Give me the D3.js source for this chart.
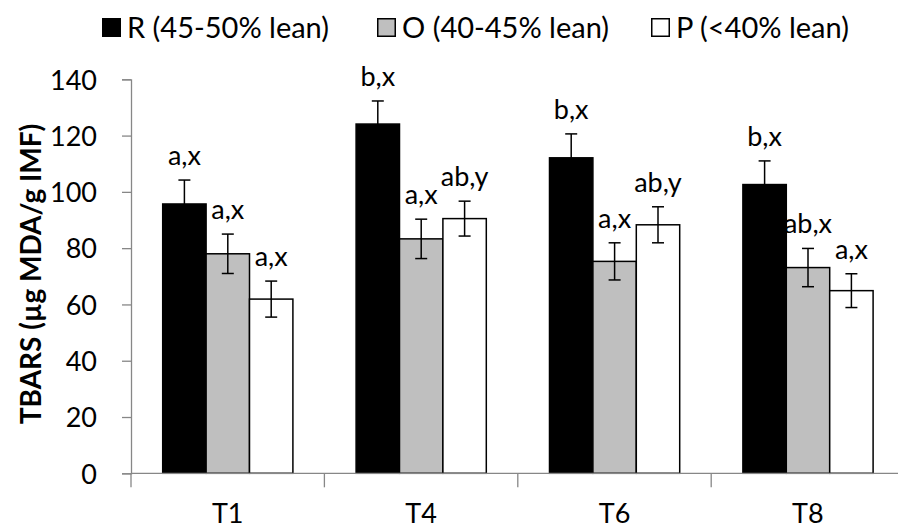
<!DOCTYPE html>
<html><head><meta charset="utf-8">
<script src="https://cdn.jsdelivr.net/npm/d3@7"></script>
<style>body{margin:0;background:#fff}svg{display:block}</style>
</head><body><svg id="c" width="898" height="532"></svg>
<script>
const categories = ["T1","T4","T6","T8"];
const seriesNames = ["R (45-50% lean)","O (40-45% lean)","P (<40% lean)"];
const seriesColors = ["#000000","#bfbfbf","#ffffff"];
const valuesR = [95.7,124.1,112.1,102.6];
const valuesO = [78.0,83.3,75.3,73.1];
const valuesP = [61.9,90.5,88.3,64.9];
const errR = [8.5,8.2,8.5,8.4];
const errO = [7.0,7.0,6.6,6.8];
const errP = [6.4,6.2,6.4,6.0];
const labelsR = ["a,x","b,x","b,x","b,x"];
const labelsO = ["a,x","a,x","a,x","ab,x"];
const labelsP = ["a,x","ab,y","ab,y","a,x"];
const yTicks = [0,20,40,60,80,100,120,140];

(function(){
const series = [
  {name:seriesNames[0],color:seriesColors[0],vals:valuesR,err:errR,lab:labelsR},
  {name:seriesNames[1],color:seriesColors[1],vals:valuesO,err:errO,lab:labelsO},
  {name:seriesNames[2],color:seriesColors[2],vals:valuesP,err:errP,lab:labelsP}
];
const font = "Lato, 'Open Sans', sans-serif";
const fs = 27;
const svg = d3.select("#c");
const pL = 131, pR = 904.6, pT = 79.3, pB = 473.3;
const y = d3.scaleLinear().domain([0,140]).range([pB, pT]);
const x0 = d3.scaleBand().domain(categories).range([pL, pR]).padding(0);
const x1 = d3.scaleBand().domain(d3.range(series.length)).range([31.7, 31.7+130.2]).padding(0);
const axisColor = "#878787";

const ya = svg.append("g").attr("transform",`translate(${pL},0)`)
  .call(d3.axisLeft(y).tickValues(yTicks).tickSize(9).tickPadding(25).tickFormat(d3.format("d")));
ya.select(".domain").attr("stroke",axisColor).attr("stroke-width",1.3);
ya.selectAll(".tick line").attr("stroke",axisColor).attr("stroke-width",1.3);
ya.selectAll(".tick text").attr("font-family",font).attr("font-size",fs).attr("fill","#000").attr("dy","0.36em");

series.forEach((s,si)=>{
  const g = svg.append("g");
  categories.forEach((c,ci)=>{
    const bx = x0(c)+x1(si), bw = x1.bandwidth(), v = s.vals[ci];
    g.append("rect").attr("x",bx).attr("y",y(v)).attr("width",bw).attr("height",y(0)-y(v))
      .attr("fill",s.color).attr("stroke","#000").attr("stroke-width",1.5);
    const cx = bx+bw/2, e = s.err[ci];
    g.append("line").attr("x1",cx).attr("x2",cx).attr("y1",y(v+e)).attr("y2",y(v-e)).attr("stroke","#000").attr("stroke-width",1.5);
    [v+e,v-e].forEach(t=>g.append("line").attr("x1",cx-6).attr("x2",cx+6).attr("y1",y(t)).attr("y2",y(t)).attr("stroke","#000").attr("stroke-width",1.5));
    g.append("text").attr("x",cx).attr("y",y(v+e)-15).attr("text-anchor","middle")
      .attr("font-family",font).attr("font-size",fs).text(s.lab[ci]);
  });
});

svg.append("line").attr("x1",pL).attr("x2",pR).attr("y1",pB).attr("y2",pB).attr("stroke",axisColor).attr("stroke-width",1.3);
categories.forEach(c=>{
  svg.append("line").attr("x1",x0(c)).attr("x2",x0(c)).attr("y1",pB).attr("y2",pB+14).attr("stroke",axisColor).attr("stroke-width",1.3);
  svg.append("text").attr("x",x0(c)+x0.bandwidth()/2).attr("y",523).attr("text-anchor","middle")
    .attr("font-family",font).attr("font-size",fs).text(c);
});

svg.append("text").attr("transform",`translate(41,274) rotate(-90)`).attr("text-anchor","middle")
  .attr("font-family",font).attr("font-weight","bold").attr("font-size",28).text("TBARS (µg MDA/g IMF)");

const legX = [102, 377, 651];
series.forEach((s,i)=>{
  svg.append("rect").attr("x",legX[i]+0.75).attr("y",18.75).attr("width",17.5).attr("height",17.5)
    .attr("fill",s.color).attr("stroke","#000").attr("stroke-width",1.5);
  svg.append("text").attr("x",legX[i]+25).attr("y",38).attr("font-family",font).attr("font-size",29).text(s.name);
});
})();
</script></body></html>
